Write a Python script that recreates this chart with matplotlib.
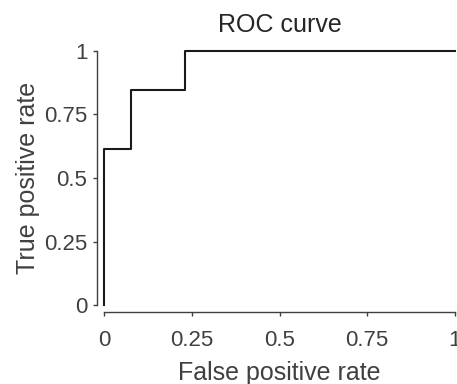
import matplotlib
matplotlib.use('Agg')
import matplotlib.pyplot as plt

fpr = [0.0, 0.0, 0.077, 0.077, 0.231, 0.231, 1.0]
tpr = [0.0, 0.615, 0.615, 0.846, 0.846, 1.0, 1.0]
ticks = [0, 0.25, 0.5, 0.75, 1]
tick_labels = ['0', '0.25', '0.5', '0.75', '1']


def plot_roc():
    plt.rcParams['font.family'] = ['Liberation Sans', 'DejaVu Sans']
    fig = plt.figure(figsize=(4.57, 3.84), dpi=100)
    ax = fig.add_axes([0.2276, 0.2057, 0.768, 0.6615])
    ax.plot(fpr, tpr, color='#1a1a1a', linewidth=1.5, clip_on=False)
    ax.set_xlim(0, 1)
    ax.set_ylim(0, 1)
    ax.set_xticks(ticks)
    ax.set_xticklabels(tick_labels)
    ax.set_yticks(ticks)
    ax.set_yticklabels(tick_labels)

    for side in ['top', 'right']:
        ax.spines[side].set_visible(False)
    for side in ['left', 'bottom']:
        ax.spines[side].set_position(('outward', 5))
        ax.spines[side].set_color('#404040')
        ax.spines[side].set_linewidth(1.0)
    ax.tick_params(direction='out', length=3, width=1.0, color='#404040',
                   labelcolor='#404040', labelsize=16, pad=4)
    ax.tick_params(axis='x', pad=10)

    ax.set_xlabel('False positive rate', fontsize=18, color='#404040', labelpad=7)
    ax.set_ylabel('True positive rate', fontsize=18, color='#404040', labelpad=3)
    ax.set_title('ROC curve', fontsize=18, color='#262626', pad=14)

    fig.savefig('out.png', dpi=100)


if __name__ == '__main__':
    plot_roc()
